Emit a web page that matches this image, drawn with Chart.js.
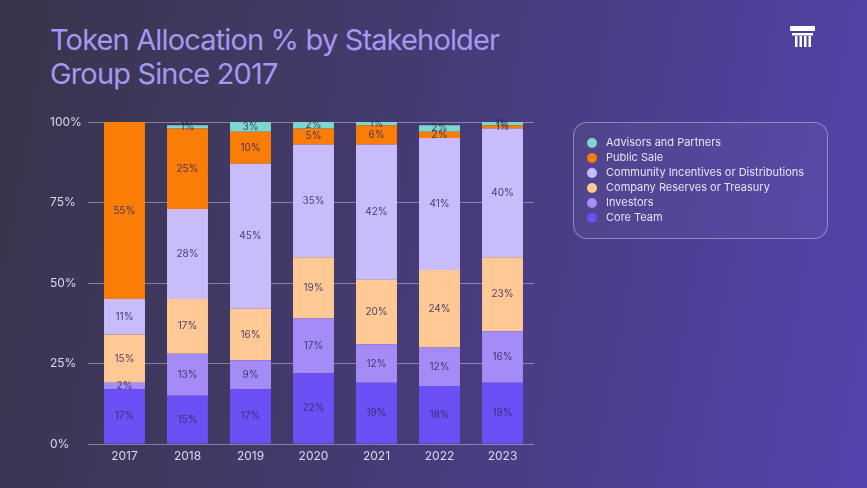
<!DOCTYPE html>
<html>
<head>
<meta charset="utf-8">
<script src="https://cdn.jsdelivr.net/npm/chart.js@4"></script>
<style>
  html, body { margin: 0; padding: 0; }
  body {
    width: 867px; height: 488px; overflow: hidden; position: relative;
    background: linear-gradient(100deg, #38354a 0%, #433a6c 40%, #4d3f94 75%, #5643ad 100%);
    font-family: Inter, "Noto Sans", sans-serif;
  }
  #title {
    position: absolute; left: 50px; top: 23px;
    font-size: 29px; line-height: 34px; color: #a697f0;
    letter-spacing: -0.85px; font-weight: 400;
  }
  #logo { position: absolute; left: 789px; top: 25px; }
  #wrap { position: absolute; left: 0; top: 0; width: 867px; height: 488px; }
  #legend {
    position: absolute; left: 573px; top: 122px; width: 253px; height: 115px;
    border: 1px solid rgba(255,255,255,0.35); border-radius: 14px;
    background: rgba(255,255,255,0.04);
  }
  #legend ul { list-style: none; margin: 0; padding: 12px 0 0 13px; }
  #legend li { height: 15px; line-height: 15px; font-size: 11px; color: #e6e2f7; display: flex; align-items: center; }
  #legend li span.dot { width: 10px; height: 10px; border-radius: 50%; margin-right: 9px; display: inline-block; }
</style>
</head>
<body>
<div id="title">Token Allocation % by Stakeholder<br>Group Since 2017</div>
<svg id="logo" width="28" height="24" viewBox="0 0 28 24">
  <rect x="1" y="1" width="25" height="5" rx="1" fill="#fff"/>
  <rect x="3" y="8" width="21" height="2.5" fill="#fff"/>
  <rect x="6" y="11" width="2.5" height="11" fill="#fff"/>
  <rect x="10.5" y="11" width="2.5" height="11" fill="#fff"/>
  <rect x="15" y="11" width="2.5" height="11" fill="#fff"/>
  <rect x="19.5" y="11" width="2.5" height="11" fill="#fff"/>
</svg>
<div id="wrap"><canvas id="chart"></canvas></div>
<div id="legend"><ul id="legend-list"></ul></div>
<script>
// 数据
const years = ['2017', '2018', '2019', '2020', '2021', '2022', '2023'];
const coreTeam = [17, 15, 17, 22, 19, 18, 19];
const investors = [2, 13, 9, 17, 12, 12, 16];
const companyReserves = [15, 17, 16, 19, 20, 24, 23];
const community = [11, 28, 45, 35, 42, 41, 40];
const publicSale = [55, 25, 10, 5, 6, 2, 1];
const advisors = [0, 1, 3, 2, 1, 2, 1];
const yTicks = [0, 25, 50, 75, 100];

const seriesNames = ['Core Team', 'Investors', 'Company Reserves or Treasury',
    'Community Incentives or Distributions', 'Public Sale', 'Advisors and Partners'];
const seriesValues = [coreTeam, investors, companyReserves, community, publicSale, advisors];
const seriesColors = ['#6c50f6', '#a58bf5', '#fec994', '#c8bcfb', '#f97d06', '#7fd6cb'];

// 柱内数值标签
const segmentLabels = {
    id: 'segmentLabels',
    afterDatasetsDraw(chart) {
        const ctx = chart.ctx;
        ctx.save();
        ctx.font = '10px Inter, "Noto Sans", sans-serif';
        ctx.fillStyle = 'rgba(52, 40, 96, 0.85)';
        ctx.textAlign = 'center';
        ctx.textBaseline = 'middle';
        chart.data.datasets.forEach((ds, i) => {
            chart.getDatasetMeta(i).data.forEach((bar, j) => {
                const v = ds.data[j];
                if (!v) return;
                ctx.fillText(v + '%', bar.x, (bar.y + bar.base) / 2);
            });
        });
        ctx.restore();
    }
};

const chart = new Chart(document.getElementById('chart'), {
    type: 'bar',
    data: {
        labels: years,
        datasets: seriesNames.map((name, i) => ({
            label: name,
            data: seriesValues[i],
            backgroundColor: seriesColors[i],
            borderWidth: 0,
            barPercentage: 0.65,
            categoryPercentage: 1
        }))
    },
    options: {
        responsive: true,
        maintainAspectRatio: false,
        animation: false,
        layout: { padding: { left: 50, top: 122, right: 333, bottom: 10 } },
        plugins: { legend: { display: false }, tooltip: { enabled: false } },
        scales: {
            x: {
                stacked: true,
                grid: { display: false },
                border: { display: false },
                ticks: { color: '#dcd8f0', font: { size: 12, family: 'Inter' }, padding: -3 },
                afterFit: (s) => { s.height = 34; }
            },
            y: {
                stacked: true,
                min: 0,
                max: 100,
                afterBuildTicks: (s) => { s.ticks = yTicks.map(v => ({ value: v })); },
                grid: { color: 'rgba(220,215,240,0.45)', tickLength: 5, drawTicks: true },
                border: { display: false },
                ticks: {
                    color: '#dcd8f0', crossAlign: 'far', padding: 0,
                    font: { size: 12, family: 'Inter' },
                    callback: (v) => v + '%'
                },
                afterFit: (s) => { s.width = 43; }
            }
        }
    },
    plugins: [segmentLabels]
});

// 图例（倒序）
const list = document.getElementById('legend-list');
for (let i = seriesNames.length - 1; i >= 0; i--) {
    const li = document.createElement('li');
    li.innerHTML = '<span class="dot" style="background:' + seriesColors[i] + '"></span>' + seriesNames[i];
    list.appendChild(li);
}
</script>
</body>
</html>
